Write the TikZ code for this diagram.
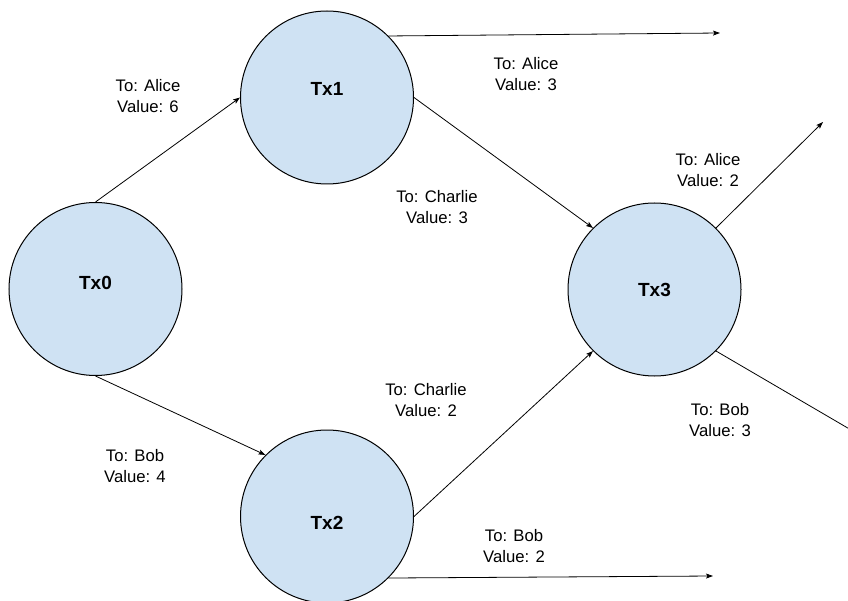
\documentclass[tikz,border=0pt]{standalone}
\usepackage{fontspec}
\setmainfont{Liberation Sans}
\usetikzlibrary{arrows.meta}
\definecolor{txfill}{HTML}{CFE2F3}
\tikzset{
  txnode/.style={circle, draw=black, fill=txfill, line width=1pt, minimum size=173pt, inner sep=0pt},
  txtext/.style={inner sep=0pt, font=\fontsize{19}{23}\selectfont\bfseries},
  lbl/.style={align=center, inner sep=0pt, font=\fontsize{16.7}{21}\selectfont},
  conn/.style={line width=0.8pt, -{Stealth[length=7pt,width=5pt,inset=1.5pt]}},
}
\begin{document}
\begin{tikzpicture}[x=1pt,y=-1pt]
\path[use as bounding box, clip] (0,0) rectangle (848,601);
\fill[white] (0,0) rectangle (848,601);
\node[txnode] (tx0) at (95.5,289) {};
\node[txnode] (tx1) at (327,97.5) {};
\node[txnode] (tx2) at (327,516.5) {};
\node[txnode] (tx3) at (654.5,289.5) {};
\node[txtext] (t0) at ([yshift=6pt]tx0.center) {Tx0};
\node[txtext] (t1) at ([yshift=9pt]tx1.center) {Tx1};
\node[txtext] (t2) at ([yshift=-6pt]tx2.center) {Tx2};
\node[txtext] (t3) at (tx3.center) {Tx3};
\coordinate (o1) at (720,33);
\coordinate (o2) at (713,576);
\coordinate (o3) at (823,122);
\coordinate (o4) at (852,430.5);
\draw[conn] (tx0.90) -- (tx1.180);
\draw[conn] (tx0.270) -- (tx2.135);
\draw[conn] (tx1.0) -- (tx3.135);
\draw[conn] (tx2.0) -- (tx3.225);
\draw[conn] (tx1.45) -- (o1);
\draw[conn] (tx2.315) -- (o2);
\draw[conn] (tx3.45) -- (o3);
\draw[line width=0.8pt] (tx3.315) -- (o4);
\node[lbl] (l1) at (148,96) {To: Alice\\Value: 6};
\node[lbl] (l2) at (526,74) {To: Alice\\Value: 3};
\node[lbl] (l3) at (437,207.5) {To: Charlie\\Value: 3};
\node[lbl] (l4) at (708,170.5) {To: Alice\\Value: 2};
\node[lbl] (l5) at (720,420) {To: Bob\\Value: 3};
\node[lbl] (l6) at (426,400.5) {To: Charlie\\Value: 2};
\node[lbl] (l7) at (135,466) {To: Bob\\Value: 4};
\node[lbl] (l8) at (514,546.5) {To: Bob\\Value: 2};
\end{tikzpicture}
\end{document}
